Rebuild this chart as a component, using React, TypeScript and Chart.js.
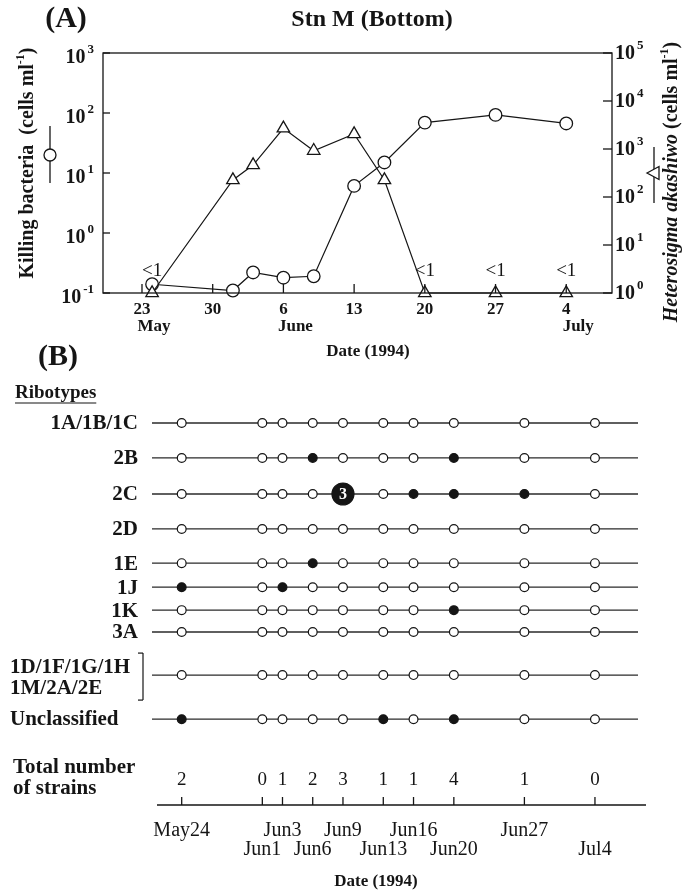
import React, { useEffect, useRef } from 'react';
import { Chart, registerables } from 'chart.js';

Chart.register(...registerables);

const SERIF = '"Liberation Serif", "Times New Roman", Times, serif';
const INK = '#151515';

// ---------------- Panel A data ----------------
const sampleDates = [
  '1994-05-24', '1994-06-01', '1994-06-03', '1994-06-06', '1994-06-09',
  '1994-06-13', '1994-06-16', '1994-06-20', '1994-06-27', '1994-07-04',
];
// Killing bacteria (cells ml-1), left axis
const killingBacteria = [0.14, 0.11, 0.22, 0.18, 0.19, 6.1, 15, 69, 93, 67];
// Heterosigma akashiwo (cells ml-1), right axis ("<1" plotted at 1)
const heterosigma = [1, 226, 464, 2700, 922, 2050, 226, 1, 1, 1];
const heterosigmaBelowLimit = [true, false, false, false, false, false, false, true, true, true];

const axisATickDates = ['1994-05-23', '1994-05-30', '1994-06-06', '1994-06-13', '1994-06-20', '1994-06-27', '1994-07-04'];
const axisATickDayLabels = ['23', '30', '6', '13', '20', '27', '4'];
const axisATickMonthLabels = ['May', '', 'June', '', '', '', 'July'];
const leftAxisExponents = [-1, 0, 1, 2, 3];
const rightAxisExponents = [0, 1, 2, 3, 4, 5];

// ---------------- Panel B data ----------------
const ribotypes = [
  '1A/1B/1C', '2B', '2C', '2D', '1E', '1J', '1K', '3A', '1D/1F/1G/1H\n1M/2A/2E', 'Unclassified',
];
// number of strains per ribotype (rows) per sampling date (columns)
const strainCounts = [
  [0, 0, 0, 0, 0, 0, 0, 0, 0, 0],
  [0, 0, 0, 1, 0, 0, 0, 1, 0, 0],
  [0, 0, 0, 0, 3, 0, 1, 1, 1, 0],
  [0, 0, 0, 0, 0, 0, 0, 0, 0, 0],
  [0, 0, 0, 1, 0, 0, 0, 0, 0, 0],
  [1, 0, 1, 0, 0, 0, 0, 0, 0, 0],
  [0, 0, 0, 0, 0, 0, 0, 1, 0, 0],
  [0, 0, 0, 0, 0, 0, 0, 0, 0, 0],
  [0, 0, 0, 0, 0, 0, 0, 0, 0, 0],
  [1, 0, 0, 0, 0, 1, 0, 1, 0, 0],
];
const dateLabelsB = ['May24', 'Jun1', 'Jun3', 'Jun6', 'Jun9', 'Jun13', 'Jun16', 'Jun20', 'Jun27', 'Jul4'];
const dateLabelTier = [0, 1, 0, 1, 0, 1, 0, 1, 0, 1];

// ---------------- layout (axis ranges / row placement) ----------------
const A_X_MIN = -3.86;
const A_X_MAX = 46.53;
const B_X_MIN = -1.946;
const B_X_MAX = 46.27;
const ROW_POS = [1, 1.99, 3.01, 4.0, 4.97, 5.65, 6.3, 6.92, 8.14, 9.39];
const TOTAL_ROW_POS = 11.11;
const B_Y_MIN = 0.348;
const B_Y_MAX = 11.82;

const dayIndex = (iso: string) => {
  const [y, m, d] = iso.split('-').map(Number);
  return (Date.UTC(y, m - 1, d) - Date.UTC(1994, 4, 23)) / 86400000;
};
const sampleX = sampleDates.map(dayIndex);

type Part = { text: string; font: string; dy?: number; gap?: number };
function drawParts(ctx: CanvasRenderingContext2D, parts: Part[], x: number, y: number, align: 'left' | 'center' | 'right') {
  ctx.save();
  ctx.textBaseline = 'middle';
  ctx.textAlign = 'left';
  ctx.fillStyle = INK;
  const widths = parts.map((p) => {
    ctx.font = p.font;
    return ctx.measureText(p.text).width + (p.gap || 0);
  });
  const total = widths.reduce((a, b) => a + b, 0);
  let cx = align === 'left' ? x : align === 'center' ? x - total / 2 : x - total;
  parts.forEach((p, i) => {
    ctx.font = p.font;
    ctx.fillText(p.text, cx + (p.gap || 0), y + (p.dy || 0));
    cx += widths[i];
  });
  ctx.restore();
}

function seg(ctx: CanvasRenderingContext2D, x1: number, y1: number, x2: number, y2: number) {
  ctx.beginPath();
  ctx.moveTo(x1, y1);
  ctx.lineTo(x2, y2);
  ctx.stroke();
}

const panelADecor = {
  id: 'panelADecor',
  afterDraw(chart: any) {
    const ctx: CanvasRenderingContext2D = chart.ctx;
    const a = chart.chartArea;
    const x = chart.scales.x;
    const yL = chart.scales.yL;
    const yR = chart.scales.yR;
    ctx.save();
    ctx.strokeStyle = INK;
    ctx.fillStyle = INK;
    ctx.lineWidth = 1.3;
    // frame
    ctx.strokeRect(a.left, a.top, a.right - a.left, a.bottom - a.top);
    // left ticks + labels
    leftAxisExponents.forEach((e) => {
      const py = yL.getPixelForValue(Math.pow(10, e));
      seg(ctx, a.left, py, a.left + 7, py);
      drawParts(ctx, [
        { text: '10', font: `bold 20px ${SERIF}` },
        { text: String(e), font: `bold 13px ${SERIF}`, dy: -8, gap: 2 },
      ], a.left - 9, py + 5, 'right');
    });
    // right ticks + labels
    rightAxisExponents.forEach((e) => {
      const py = yR.getPixelForValue(Math.pow(10, e));
      seg(ctx, a.right - 9, py, a.right, py);
      drawParts(ctx, [
        { text: '10', font: `bold 20px ${SERIF}` },
        { text: String(e), font: `bold 13px ${SERIF}`, dy: -8, gap: 2 },
      ], a.right + 3, py + 1, 'left');
    });
    // x ticks + labels
    axisATickDates.forEach((d, i) => {
      const px = x.getPixelForValue(dayIndex(d));
      seg(ctx, px, a.bottom - 9, px, a.bottom);
      drawParts(ctx, [{ text: axisATickDayLabels[i], font: `bold 17px ${SERIF}` }], px, a.bottom + 17, 'center');
      if (axisATickMonthLabels[i]) {
        drawParts(ctx, [{ text: axisATickMonthLabels[i], font: `bold 17px ${SERIF}` }], px + 12, a.bottom + 34, 'center');
      }
    });
    // "<1" labels
    sampleX.forEach((d, i) => {
      if (!heterosigmaBelowLimit[i]) return;
      const px = x.getPixelForValue(d);
      drawParts(ctx, [{ text: '<1', font: `19px ${SERIF}` }], px, a.bottom - 22, 'center');
    });
    // titles
    drawParts(ctx, [{ text: '(A)', font: `bold 30px ${SERIF}` }], 66, 19, 'center');
    drawParts(ctx, [{ text: 'Stn M (Bottom)', font: `bold 24px ${SERIF}` }], 372, 20, 'center');
    drawParts(ctx, [{ text: 'Date (1994)', font: `bold 17px ${SERIF}` }], 368, 352, 'center');
    drawParts(ctx, [{ text: '(B)', font: `bold 30px ${SERIF}` }], 58, 357, 'center');

    // left axis title
    ctx.save();
    ctx.translate(28, 163);
    ctx.rotate(-Math.PI / 2);
    drawParts(ctx, [
      { text: 'Killing bacteria  (cells ml', font: `bold 20px ${SERIF}` },
      { text: '-1', font: `bold 12px ${SERIF}`, dy: -7 },
      { text: ')', font: `bold 20px ${SERIF}` },
    ], 0, 0, 'center');
    ctx.restore();
    // left symbol
    seg(ctx, 50, 126, 50, 183);
    ctx.beginPath();
    ctx.arc(50, 155, 6, 0, Math.PI * 2);
    ctx.fillStyle = '#fff';
    ctx.fill();
    ctx.stroke();
    ctx.fillStyle = INK;

    // right axis title
    ctx.save();
    ctx.translate(672, 182);
    ctx.rotate(-Math.PI / 2);
    drawParts(ctx, [
      { text: 'Heterosigma akashiwo', font: `italic bold 20px ${SERIF}` },
      { text: ' (cells ml', font: `bold 20px ${SERIF}` },
      { text: '-1', font: `bold 12px ${SERIF}`, dy: -7 },
      { text: ')', font: `bold 20px ${SERIF}` },
    ], 0, 0, 'center');
    ctx.restore();
    // right symbol (triangle rotated)
    seg(ctx, 654, 147, 654, 203);
    ctx.beginPath();
    ctx.moveTo(647, 173);
    ctx.lineTo(659, 166.5);
    ctx.lineTo(659, 179.5);
    ctx.closePath();
    ctx.fillStyle = '#fff';
    ctx.fill();
    ctx.stroke();
    ctx.restore();
  },
};

const panelBDecor = {
  id: 'panelBDecor',
  afterDraw(chart: any) {
    const ctx: CanvasRenderingContext2D = chart.ctx;
    const a = chart.chartArea;
    const x = chart.scales.x;
    const y = chart.scales.y;
    ctx.save();
    ctx.strokeStyle = INK;
    ctx.fillStyle = INK;
    ctx.lineWidth = 1.3;
    // bottom axis
    seg(ctx, a.left + 5, a.bottom, a.right + 8, a.bottom);
    sampleX.forEach((d, i) => {
      const px = x.getPixelForValue(d);
      seg(ctx, px, a.bottom - 8, px, a.bottom);
      drawParts(ctx, [{ text: dateLabelsB[i], font: `20px ${SERIF}` }], px, a.bottom + (dateLabelTier[i] ? 45 : 26), 'center');
      const total = strainCounts.reduce((s, row) => s + row[i], 0);
      drawParts(ctx, [{ text: String(total), font: `19px ${SERIF}` }], px, y.getPixelForValue(TOTAL_ROW_POS), 'center');
    });
    // counts > 1 inside big dots
    strainCounts.forEach((row, r) => {
      row.forEach((c, i) => {
        if (c > 1) {
          ctx.save();
          ctx.fillStyle = '#fff';
          ctx.font = `bold 16px ${SERIF}`;
          ctx.textAlign = 'center';
          ctx.textBaseline = 'middle';
          ctx.fillText(String(c), x.getPixelForValue(sampleX[i]), y.getPixelForValue(ROW_POS[r]) + 1);
          ctx.restore();
        }
      });
    });
    // row labels
    ribotypes.forEach((name, r) => {
      const py = y.getPixelForValue(ROW_POS[r]);
      const lines = name.split('\n');
      const font = `bold 21px ${SERIF}`;
      if (lines.length > 1) {
        drawParts(ctx, [{ text: lines[0], font }], 10, py - 8, 'left');
        drawParts(ctx, [{ text: lines[1], font }], 10, py + 13, 'left');
        // bracket
        ctx.lineWidth = 1.2;
        seg(ctx, 143, py - 22, 143, py + 25);
        seg(ctx, 138, py - 22, 143, py - 22);
        seg(ctx, 138, py + 25, 143, py + 25);
        ctx.lineWidth = 1.3;
      } else if (r === ribotypes.length - 1) {
        drawParts(ctx, [{ text: name, font }], 10, py, 'left');
      } else {
        drawParts(ctx, [{ text: name, font }], 138, py + 1, 'right');
      }
    });
    // "Ribotypes" heading
    ctx.font = `bold 19px ${SERIF}`;
    const rw = ctx.measureText('Ribotypes').width;
    drawParts(ctx, [{ text: 'Ribotypes', font: `bold 19px ${SERIF}` }], 15, 18, 'left');
    ctx.lineWidth = 1.2;
    seg(ctx, 15, 28, 15 + rw, 28);
    // totals label
    const ty = y.getPixelForValue(TOTAL_ROW_POS);
    drawParts(ctx, [{ text: 'Total number', font: `bold 21px ${SERIF}` }], 13, ty - 12, 'left');
    drawParts(ctx, [{ text: 'of strains', font: `bold 21px ${SERIF}` }], 13, ty + 9, 'left');
    // axis title
    drawParts(ctx, [{ text: 'Date (1994)', font: `bold 17px ${SERIF}` }], 376, 507, 'center');
    ctx.restore();
  },
};

export default function App() {
  const refA = useRef<HTMLCanvasElement | null>(null);
  const refB = useRef<HTMLCanvasElement | null>(null);

  useEffect(() => {
    if (!refA.current || !refB.current) return;
    const hidden = { display: false };
    const chartA = new Chart(refA.current, {
      type: 'line',
      data: {
        datasets: [
          {
            label: 'Heterosigma akashiwo',
            data: sampleX.map((d, i) => ({ x: d, y: heterosigma[i] })),
            yAxisID: 'yR',
            borderColor: INK,
            borderWidth: 1.2,
            pointStyle: 'triangle',
            pointRadius: 7.2,
            pointBackgroundColor: '#fff',
            pointBorderColor: INK,
            pointBorderWidth: 1.3,
            clip: false,
            order: 1,
          },
          {
            label: 'Killing bacteria',
            data: sampleX.map((d, i) => ({ x: d, y: killingBacteria[i] })),
            yAxisID: 'yL',
            borderColor: INK,
            borderWidth: 1.2,
            pointStyle: 'circle',
            pointRadius: 6.3,
            pointBackgroundColor: '#fff',
            pointBorderColor: INK,
            pointBorderWidth: 1.3,
            clip: false,
            order: 2,
          },
        ],
      } as any,
      options: {
        responsive: false,
        animation: false,
        devicePixelRatio: 1,
        events: [],
        layout: { padding: { top: 53, left: 0, right: 0, bottom: 0 } },
        plugins: { legend: hidden, tooltip: { enabled: false }, title: hidden },
        scales: {
          x: {
            type: 'linear', min: A_X_MIN, max: A_X_MAX,
            grid: hidden, border: hidden, ticks: hidden,
            afterFit: (s: any) => { s.height = 82; },
          },
          yL: {
            type: 'logarithmic', position: 'left', min: 0.1, max: 1000,
            grid: hidden, border: hidden, ticks: hidden,
            afterFit: (s: any) => { s.width = 103; },
          },
          yR: {
            type: 'logarithmic', position: 'right', min: 1, max: 100000,
            grid: hidden, border: hidden, ticks: hidden,
            afterFit: (s: any) => { s.width = 84; },
          },
        },
      } as any,
      plugins: [panelADecor],
    });

    const lineSets = ROW_POS.map((ry) => ({
      type: 'line',
      data: [{ x: B_X_MIN, y: ry }, { x: B_X_MAX, y: ry }],
      borderColor: '#2a2a2a',
      borderWidth: 1.3,
      pointRadius: 0,
      order: 3,
      clip: false,
    }));
    const dotSets = strainCounts.map((row, r) => ({
      type: 'line',
      showLine: false,
      data: sampleX.map((d) => ({ x: d, y: ROW_POS[r] })),
      pointStyle: 'circle',
      pointRadius: row.map((c) => (c > 1 ? 11 : 4.4)),
      pointBackgroundColor: row.map((c) => (c > 0 ? INK : '#fff')),
      pointBorderColor: INK,
      pointBorderWidth: 1.2,
      order: 1,
      clip: false,
    }));
    const chartB = new Chart(refB.current, {
      type: 'line',
      data: { datasets: [...lineSets, ...dotSets] } as any,
      options: {
        responsive: false,
        animation: false,
        devicePixelRatio: 1,
        events: [],
        layout: { padding: { top: 25, left: 0, right: 58, bottom: 0 } },
        plugins: { legend: hidden, tooltip: { enabled: false }, title: hidden },
        scales: {
          x: {
            type: 'linear', min: B_X_MIN, max: B_X_MAX,
            grid: hidden, border: hidden, ticks: hidden,
            afterFit: (s: any) => { s.height = 88; },
          },
          y: {
            type: 'linear', reverse: true, min: B_Y_MIN, max: B_Y_MAX,
            grid: hidden, border: hidden, ticks: hidden,
            afterFit: (s: any) => { s.width = 152; },
          },
        },
      } as any,
      plugins: [panelBDecor],
    });

    return () => {
      chartA.destroy();
      chartB.destroy();
    };
  }, []);

  return (
    <div style={{ position: 'absolute', left: 0, top: 0, width: 696, height: 893, background: '#fff' }}>
      <canvas ref={refA} width={696} height={375} style={{ position: 'absolute', left: 0, top: 0, width: 696, height: 375 }} />
      <canvas ref={refB} width={696} height={518} style={{ position: 'absolute', left: 0, top: 375, width: 696, height: 518 }} />
    </div>
  );
}
